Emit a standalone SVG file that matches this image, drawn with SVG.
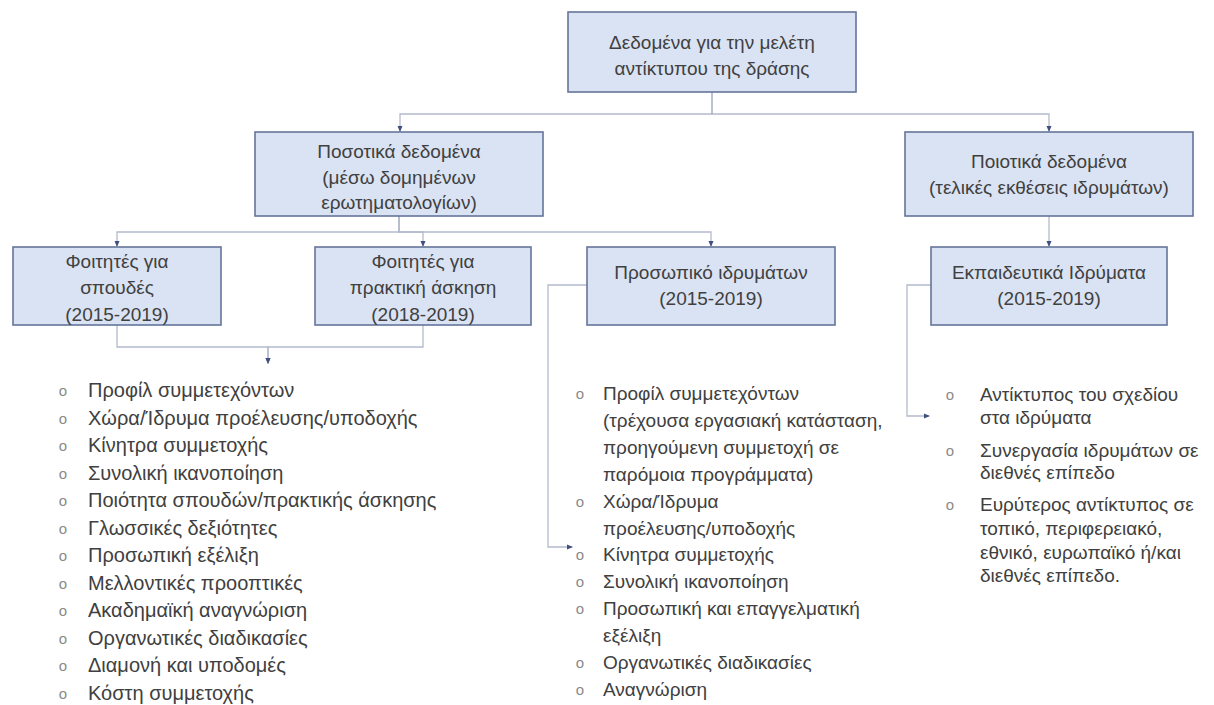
<svg xmlns="http://www.w3.org/2000/svg" width="1214" height="705" viewBox="0 0 1214 705">
<defs>
<marker id="arr" viewBox="0 0 6 6" refX="5" refY="3" markerWidth="6" markerHeight="6" markerUnits="userSpaceOnUse" orient="auto">
<path d="M0,0.5 L6,3 L0,5.5 Z" fill="#3f4f80"/>
</marker>
<style>
.box{fill:#dae3f3;stroke:#65749a;stroke-width:1.6}
.t{font-family:"Liberation Sans",Arial,sans-serif;font-size:19px;fill:#404040;text-anchor:middle}
.l{font-family:"Liberation Sans",Arial,sans-serif;font-size:19px;fill:#404040}
.l2{font-family:"Liberation Sans",Arial,sans-serif;font-size:20px;fill:#404040}
.b{font-family:"Liberation Sans",Arial,sans-serif;font-size:15px;fill:#8a8a8a;text-anchor:middle}
.c{fill:none;stroke:#b3bacb;stroke-width:1.3;marker-end:url(#arr)}
</style>
</defs>
<rect width="1214" height="705" fill="#ffffff"/>
<g id="connectors">
<path class="c" d="M712,92 V114 H400 V131"/>
<path class="c" d="M712,92 V114 H1049 V131"/>
<path class="c" d="M399,216 V232 H117 V246"/>
<path class="c" d="M399,216 V232 H423 V246"/>
<path class="c" d="M399,216 V232 H711 V246"/>
<path class="c" d="M1049,216 V246"/>
<path class="c" d="M117,325 V347 H268 V363"/>
<path class="c" d="M423,325 V347 H268 V363"/>
<path class="c" d="M587,285 H548 V547 H572"/>
<path class="c" d="M931,285 H907 V416 H929"/>
</g>
<g id="n-root">
<rect class="box" x="568" y="12" width="288" height="80"/>
<text class="t" x="712" y="49">Δεδομένα για την μελέτη</text>
<text class="t" x="712" y="75">αντίκτυπου της δράσης</text>
</g>
<g id="n-quant">
<rect class="box" x="255" y="132" width="288" height="84"/>
<text class="t" x="399" y="158">Ποσοτικά δεδομένα</text>
<text class="t" x="399" y="184">(μέσω δομημένων</text>
<text class="t" x="399" y="209">ερωτηματολογίων)</text>
</g>
<g id="n-qual">
<rect class="box" x="905" y="132" width="288" height="84"/>
<text class="t" x="1049" y="168">Ποιοτικά δεδομένα</text>
<text class="t" x="1049" y="194">(τελικές εκθέσεις ιδρυμάτων)</text>
</g>
<g id="n-studies">
<rect class="box" x="13" y="247" width="208" height="78"/>
<text class="t" x="117" y="268">Φοιτητές για</text>
<text class="t" x="117" y="294">σπουδές</text>
<text class="t" x="117" y="321">(2015-2019)</text>
</g>
<g id="n-traineeship">
<rect class="box" x="315" y="247" width="216" height="78"/>
<text class="t" x="423" y="268">Φοιτητές για</text>
<text class="t" x="423" y="294">πρακτική άσκηση</text>
<text class="t" x="423" y="321">(2018-2019)</text>
</g>
<g id="n-staff">
<rect class="box" x="587" y="247" width="248" height="78"/>
<text class="t" x="711" y="279">Προσωπικό ιδρυμάτων</text>
<text class="t" x="711" y="305">(2015-2019)</text>
</g>
<g id="n-inst">
<rect class="box" x="931" y="247" width="236" height="78"/>
<text class="t" x="1049" y="279">Εκπαιδευτικά Ιδρύματα</text>
<text class="t" x="1049" y="305">(2015-2019)</text>
</g>
<g id="list-students">
<text class="b" x="63" y="396">o</text><text class="l2" x="88" y="397">Προφίλ συμμετεχόντων</text>
<text class="b" x="63" y="423.5">o</text><text class="l2" x="88" y="424.5">Χώρα/Ίδρυμα προέλευσης/υποδοχής</text>
<text class="b" x="63" y="451">o</text><text class="l2" x="88" y="452">Κίνητρα συμμετοχής</text>
<text class="b" x="63" y="478.5">o</text><text class="l2" x="88" y="479.5">Συνολική ικανοποίηση</text>
<text class="b" x="63" y="506">o</text><text class="l2" x="88" y="507">Ποιότητα σπουδών/πρακτικής άσκησης</text>
<text class="b" x="63" y="533.5">o</text><text class="l2" x="88" y="534.5">Γλωσσικές δεξιότητες</text>
<text class="b" x="63" y="561">o</text><text class="l2" x="88" y="562">Προσωπική εξέλιξη</text>
<text class="b" x="63" y="588.5">o</text><text class="l2" x="88" y="589.5">Μελλοντικές προοπτικές</text>
<text class="b" x="63" y="616">o</text><text class="l2" x="88" y="617">Ακαδημαϊκή αναγνώριση</text>
<text class="b" x="63" y="643.5">o</text><text class="l2" x="88" y="644.5">Οργανωτικές διαδικασίες</text>
<text class="b" x="63" y="671">o</text><text class="l2" x="88" y="672">Διαμονή και υποδομές</text>
<text class="b" x="63" y="698.5">o</text><text class="l2" x="88" y="699.5">Κόστη συμμετοχής</text>
</g>
<g id="list-staff">
<text class="b" x="580" y="399">o</text><text class="l" x="603" y="400">Προφίλ συμμετεχόντων</text>
<text class="l" x="603" y="427">(τρέχουσα εργασιακή κατάσταση,</text>
<text class="l" x="603" y="454">προηγούμενη συμμετοχή σε</text>
<text class="l" x="603" y="481">παρόμοια προγράμματα)</text>
<text class="b" x="580" y="507">o</text><text class="l" x="603" y="508">Χώρα/Ίδρυμα</text>
<text class="l" x="603" y="534.5">προέλευσης/υποδοχής</text>
<text class="b" x="580" y="560">o</text><text class="l" x="603" y="561">Κίνητρα συμμετοχής</text>
<text class="b" x="580" y="587">o</text><text class="l" x="603" y="588">Συνολική ικανοποίηση</text>
<text class="b" x="580" y="614">o</text><text class="l" x="603" y="615">Προσωπική και επαγγελματική</text>
<text class="l" x="603" y="642">εξέλιξη</text>
<text class="b" x="580" y="668">o</text><text class="l" x="603" y="669">Οργανωτικές διαδικασίες</text>
<text class="b" x="580" y="695">o</text><text class="l" x="603" y="696">Αναγνώριση</text>
</g>
<g id="list-inst">
<text class="b" x="950" y="400">o</text><text class="l" x="980" y="401">Αντίκτυπος του σχεδίου</text>
<text class="l" x="980" y="423.5">στα ιδρύματα</text>
<text class="b" x="950" y="455.5">o</text><text class="l" x="980" y="456.5">Συνεργασία ιδρυμάτων σε</text>
<text class="l" x="980" y="479">διεθνές επίπεδο</text>
<text class="b" x="950" y="510">o</text><text class="l" x="980" y="511">Ευρύτερος αντίκτυπος σε</text>
<text class="l" x="980" y="535">τοπικό, περιφερειακό,</text>
<text class="l" x="980" y="559">εθνικό, ευρωπαϊκό ή/και</text>
<text class="l" x="980" y="582">διεθνές επίπεδο.</text>
</g>
</svg>
